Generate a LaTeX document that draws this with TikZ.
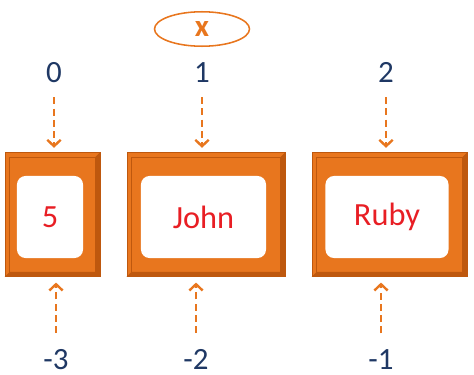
\documentclass[tikz,border=0pt]{standalone}
\usepackage{fontspec}
\setmainfont{Carlito}
\usepackage{tikz}
\usetikzlibrary{arrows.meta, positioning, calc, shapes.geometric}
\usepackage{xcolor}
\definecolor{boxorange}{RGB}{232,118,30}
\definecolor{boxdark}{RGB}{190,88,14}
\definecolor{idxblue}{RGB}{31,56,100}
\definecolor{valred}{RGB}{232,30,36}

\tikzset{
  cell/.style={draw=boxdark, fill=boxorange, line width=0.6pt, minimum height=3.1cm, inner sep=0pt},
  bevel/.style={draw=boxdark, line width=0.5pt},
  val/.style={fill=white, rounded corners=6pt, minimum height=2.05cm, inner sep=0pt,
    text=valred, font=\fontsize{23}{26}\selectfont},
  idx/.style={text=idxblue, inner sep=0pt, anchor=base, font=\fontsize{22}{24}\selectfont},
  ptr/.style={boxorange, line width=2.1pt, dash pattern=on 5pt off 3pt,
    -{Straight Barb[length=4.5pt, width=9.5pt, line width=1.7pt]}},
}

\begin{document}
\begin{tikzpicture}[x=0.025cm, y=-0.025cm]
  \useasboundingbox (0,0) rectangle (474,375);
  % the variable
  \node[ellipse, draw=boxorange, line width=1.1pt, minimum width=2.375cm, minimum height=0.8cm,
    text=boxorange, font=\bfseries\fontsize{22}{24}\selectfont] (var) at (202,29) {x};
  % the cells with their indices
  \foreach \n/\cx/\w/\iw/\v/\tx/\t/\bx/\b in {a/52.5/2.375/1.65/5/54/0/56/-3,
      b/206/3.95/3.125/John/202/1/196/-2, c/389.5/3.875/3.075/Ruby/386/2/381/-1} {
    \node[cell, minimum width=\w cm] (cell\n) at (\cx,214.5) {};
    \fill[boxdark] (cell\n.north east) -- (cell\n.south east) -- (cell\n.south west)
      -- ([shift={(5,-5)}]cell\n.south west) -- ([shift={(-5,-5)}]cell\n.south east)
      -- ([shift={(-5,5)}]cell\n.north east) -- cycle;
    \draw[bevel] ([shift={(5,5)}]cell\n.north west) rectangle ([shift={(-5,-5)}]cell\n.south east);
    \node[val, minimum width=\iw cm] (val\n) at ([shift={(-2.5,2.5)}]cell\n.center) {\v};
    \node[idx] (top\n) at (\tx,82) {\t};
    \draw[ptr, shorten <=10.5pt, shorten >=3pt] (top\n) -- (top\n |- cell\n.north);
    \node[idx] (bot\n) at (\bx,369) {\b};
    \draw[ptr, shorten <=11pt, shorten >=4pt] (bot\n) -- (bot\n |- cell\n.south);
  }
\end{tikzpicture}
\end{document}
